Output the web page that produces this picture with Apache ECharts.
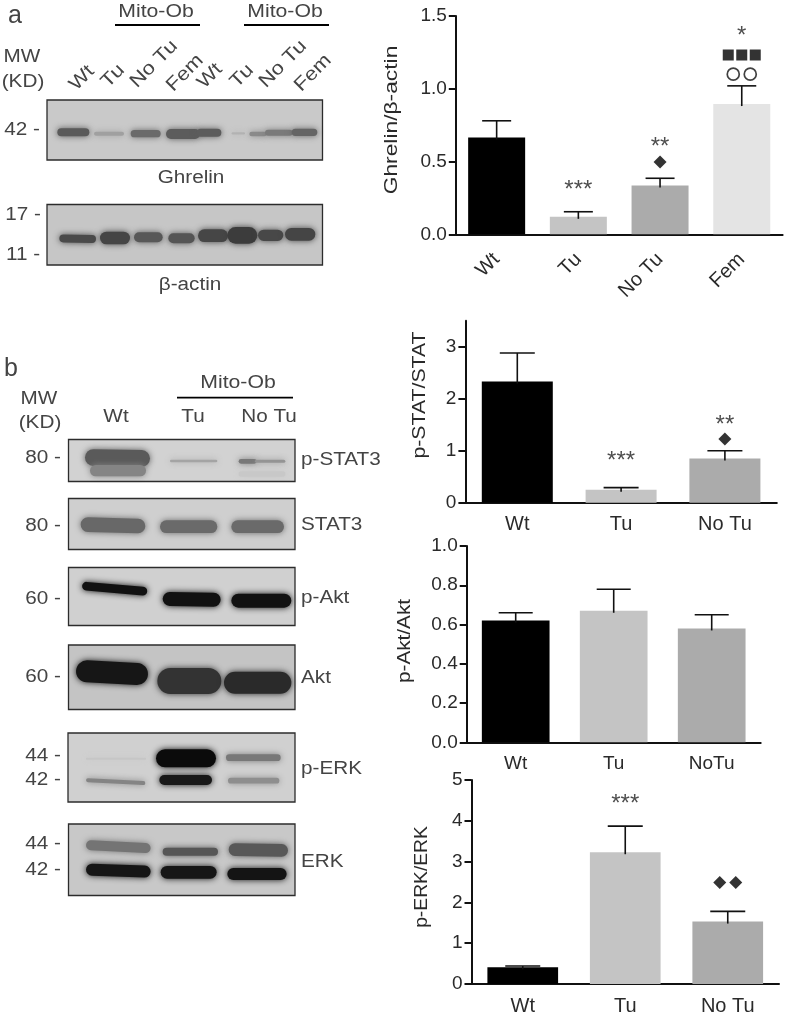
<!DOCTYPE html>
<html>
<head>
<meta charset="utf-8">
<style>
  html, body { margin: 0; background: #fff; }
  #main { width: 787px; height: 1016px; filter: blur(0.45px); }
</style>
<script src="https://cdn.jsdelivr.net/npm/echarts@6/dist/echarts.min.js"></script>
</head>
<body>
<div id="main"></div>
<script>
// chart data
var ghrelinCats = ["Wt", "Tu", "No Tu", "Fem"];
var ghrelinVals = [0.665, 0.12, 0.335, 0.895];
var ghrelinTops = [0.78, 0.155, 0.385, 1.02];
var ghrelinTicks = [0, 0.5, 1, 1.5];

var statCats = ["Wt", "Tu", "No Tu"];
var statVals = [2.33, 0.25, 0.85];
var statTops = [2.88, 0.29, 1.0];
var statTicks = [0, 1, 2, 3];

var aktCats = ["Wt", "Tu", "NoTu"];
var aktVals = [0.62, 0.67, 0.58];
var aktTops = [0.66, 0.78, 0.65];
var aktTicks = [0, 0.2, 0.4, 0.6, 0.8, 1];

var erkCats = ["Wt", "Tu", "No Tu"];
var erkVals = [0.41, 3.23, 1.53];
var erkTops = [0.44, 3.87, 1.78];
var erkTicks = [0, 1, 2, 3, 4, 5];

// significance marks: category, height on the value axis, what to draw
var ghrelinStars = [["Tu", 0.334, "***"], ["No Tu", 0.63, "**"], ["Fem", 1.397, "*"]];
var ghrelinGlyphs = [["No Tu", 0.497, "diamond", 0], ["Fem", 1.232, "rect", -13.5], ["Fem", 1.232, "rect", 0],
  ["Fem", 1.232, "rect", 13.5], ["Fem", 1.10, "circle", -8.5], ["Fem", 1.10, "circle", 8.5]];
var statStars = [["Tu", 0.885, "***"], ["No Tu", 1.59, "**"]];
var statGlyphs = [["No Tu", 1.225, "diamond", 0]];
var erkStars = [["Tu", 4.53, "***"]];
var erkGlyphs = [["No Tu", 2.49, "diamond", -8], ["No Tu", 2.49, "diamond", 8]];

var barColors = ["#000000", "#c4c4c4", "#ababab", "#e4e4e4"];
var FONT = '"Liberation Sans", Arial, sans-serif';
var AXIS = "#111";
var TEXT = "#2a2a2a";
var BLOT_TEXT = "#444";

var panels = [
  { cats: ghrelinCats, vals: ghrelinVals, tops: ghrelinTops, ticks: ghrelinTicks, max: 1.5, stars: ghrelinStars, glyphs: ghrelinGlyphs,
    left: 455.8, width: 326.8, top: 16, height: 218.3, barW: 57, cap: 29, fmt: 1, labelSize: 20, margin: 22, rotate: 45 },
  { cats: statCats, vals: statVals, tops: statTops, ticks: statTicks, max: 3.5, stars: statStars, glyphs: statGlyphs,
    left: 465.4, width: 311.4, top: 320.7, height: 182, barW: 71, cap: 35, fmt: 0, labelSize: 20, margin: 12, rotate: 0 },
  { cats: aktCats, vals: aktVals, tops: aktTops, ticks: aktTicks, max: 1, stars: [], glyphs: [],
    left: 466.7, width: 294, top: 546, height: 196.3, barW: 67.7, cap: 34, fmt: 1, labelSize: 19, margin: 12, rotate: 0 },
  { cats: erkCats, vals: erkVals, tops: erkTops, ticks: erkTicks, max: 5, stars: erkStars, glyphs: erkGlyphs,
    left: 471.5, width: 307.5, top: 780, height: 204.3, barW: 70.7, cap: 35, fmt: 0, labelSize: 20, margin: 12, rotate: 0 }
];

var grids = [], xAxes = [], yAxes = [], series = [];

panels.forEach(function (p, i) {
  grids.push({ left: p.left, top: p.top, width: p.width, height: p.height });
  xAxes.push({
    type: "category", gridIndex: i, data: p.cats,
    axisLine: { lineStyle: { color: AXIS, width: 2 } },
    axisTick: { alignWithLabel: true, length: 7, lineStyle: { color: AXIS, width: 2 } },
    axisLabel: { color: TEXT, fontFamily: FONT, fontSize: p.labelSize, rotate: p.rotate, margin: p.margin, interval: 0 }
  });
  yAxes.push({
    type: "value", gridIndex: i, min: 0, max: p.max,
    splitLine: { show: false },
    axisLine: { show: true, lineStyle: { color: AXIS, width: 2 } },
    axisTick: { show: true, length: 7, customValues: p.ticks, lineStyle: { color: AXIS, width: 2 } },
    axisLabel: {
      color: TEXT, fontFamily: FONT, fontSize: 19, margin: 9, customValues: p.ticks,
      formatter: function (v) { return v.toFixed(p.fmt); }
    }
  });
  series.push({
    type: "bar", xAxisIndex: i, yAxisIndex: i, barWidth: p.barW, z: 2,
    data: p.vals.map(function (v, k) { return { value: v, itemStyle: { color: barColors[k] } }; })
  });
  // error bars, upper arm only
  series.push({
    type: "custom", xAxisIndex: i, yAxisIndex: i, z: 3, silent: true,
    data: p.tops.map(function (t, k) { return [k, p.vals[k], t]; }),
    renderItem: function (params, api) {
      var base = api.coord([api.value(0), api.value(1)]);
      var top = api.coord([api.value(0), api.value(2)]);
      var st = { stroke: AXIS, lineWidth: 1.6 };
      return {
        type: "group",
        children: [
          { type: "line", shape: { x1: top[0], y1: base[1] + 2, x2: top[0], y2: top[1] }, style: st },
          { type: "line", shape: { x1: top[0] - p.cap / 2, y1: top[1], x2: top[0] + p.cap / 2, y2: top[1] }, style: st }
        ]
      };
    }
  });
  if (p.stars.length) {
    series.push({
      type: "scatter", xAxisIndex: i, yAxisIndex: i, symbolSize: 1, z: 4, silent: true,
      itemStyle: { color: "transparent" },
      data: p.stars.map(function (s) {
        return {
          value: [s[0], s[1]],
          label: {
            show: true, position: "inside", formatter: s[2], color: "#222",
            fontFamily: FONT, fontSize: 24, offset: [0, 5]
          }
        };
      })
    });
  }
  if (p.glyphs.length) {
    series.push({
      type: "scatter", xAxisIndex: i, yAxisIndex: i, z: 4, silent: true,
      data: p.glyphs.map(function (g) {
        var hollow = g[2] === "circle";
        return {
          value: [g[0], g[1]],
          symbol: g[2],
          symbolSize: hollow ? 12 : (g[2] === "rect" ? 11 : 13),
          symbolOffset: [g[3], 0],
          itemStyle: hollow ? { color: "#fff", borderColor: "#111", borderWidth: 1.7 } : { color: "#000" }
        };
      })
    });
  }
});

// ---- western blots, drawn as plain shapes ----
var graphics = [];

function txt(s, x, y, size, o) {
  o = o || {};
  graphics.push({
    type: "text", x: x, y: y, rotation: (o.rot || 0) * Math.PI / 180,
    scaleX: o.sx || 1.15, z: 20,
    style: {
      text: s, fill: o.fill || BLOT_TEXT, font: size + "px " + FONT,
      textAlign: o.align || "center", textVerticalAlign: "middle"
    }
  });
}
function rule(x1, x2, y) {
  graphics.push({
    type: "line", z: 20, shape: { x1: x1, y1: y, x2: x2, y2: y },
    style: { stroke: "#000", lineWidth: 1.8 }
  });
}
function blot(x1, y1, x2, y2, bg, ox, oy, bands) {
  graphics.push({
    type: "rect", z: 5, shape: { x: x1, y: y1, width: x2 - x1, height: y2 - y1 },
    style: { fill: bg }
  });
  // bands: zoomed x1, x2, y centre, height, colour, tilt in degrees (positive runs down to the right)
  bands.forEach(function (b) {
    var w = (b[1] - b[0]) / 3, h = b[3] / 3;
    var cx = ox + (b[0] + b[1]) / 6, cy = oy + b[2] / 3;
    graphics.push({
      type: "rect", z: 6, x: cx, y: cy, rotation: -(b[5] || 0) * Math.PI / 180,
      shape: { x: -w / 2, y: -h / 2, width: w, height: h, r: h / 2 },
      style: { fill: b[4], shadowBlur: 6, shadowColor: b[4] }
    });
  });
  graphics.push({
    type: "rect", z: 7, shape: { x: x1, y: y1, width: x2 - x1, height: y2 - y1 },
    style: { fill: "none", stroke: "#2c2c2c", lineWidth: 1.3 }
  });
}

blot(47, 100, 322.5, 160, "#c9c9c9", 0, 0, [
  [172, 268, 397, 24, "#5a5a5a"], [282, 372, 401, 12, "#a0a0a0"], [392, 482, 401, 22, "#6a6a6a"],
  [498, 600, 402, 30, "#5c5c5c"], [590, 664, 398, 24, "#5c5c5c"], [695, 735, 400, 7, "#b2b2b2"],
  [748, 800, 402, 14, "#8a8a8a"], [795, 878, 398, 18, "#7a7a7a"], [875, 952, 397, 22, "#656565"]
]);
blot(47, 204.5, 322.5, 265, "#c6c6c6", 0, 0, [
  [178, 288, 716, 24, "#4a4a4a", 1], [300, 390, 714, 38, "#454545"], [402, 488, 712, 30, "#585858"],
  [505, 584, 715, 30, "#555555"], [594, 684, 707, 38, "#464646"], [682, 772, 706, 50, "#3c3c3c"],
  [774, 850, 706, 34, "#484848"], [855, 946, 703, 38, "#454545"]
]);

blot(68.5, 439.5, 295, 481.5, "#d2d2d2", 0, 350, [
  [255, 450, 324, 50, "#5a5a5a", 1], [270, 438, 362, 34, "#858585"], [510, 652, 333, 8, "#a4a4a4"],
  [716, 770, 334, 14, "#787878"], [765, 856, 334, 9, "#949494"], [716, 856, 372, 16, "#c8c8c8"]
]);
blot(68.5, 498.5, 295, 549.5, "#cfcfcf", 0, 350, [
  [242, 436, 526, 44, "#686868", 1.5], [480, 652, 530, 38, "#6a6a6a"], [694, 852, 530, 38, "#6a6a6a"]
]);
blot(68.5, 567.5, 295, 625.5, "#d0d0d0", 0, 350, [
  [246, 442, 716, 26, "#111", 5], [488, 662, 748, 42, "#111", 1], [694, 874, 752, 42, "#111"]
]);
blot(68.5, 645, 295, 709.5, "#c4c4c4", 0, 350, [
  [228, 444, 968, 66, "#161616", 3], [472, 664, 993, 78, "#333333"], [672, 874, 998, 66, "#2a2a2a"]
]);
blot(68, 733, 295, 802, "#d0d0d0", 0, 680, [
  [258, 438, 236, 6, "#c6c6c6"], [468, 648, 235, 54, "#0b0b0b"], [678, 842, 233, 20, "#787878"],
  [258, 436, 305, 12, "#848484", 3], [478, 636, 300, 30, "#181818"], [684, 838, 302, 17, "#8e8e8e"]
]);
blot(68.5, 824, 295, 895.5, "#c8c8c8", 0, 680, [
  [258, 452, 500, 30, "#747474", 3], [488, 654, 515, 24, "#565656"], [686, 864, 510, 38, "#585858", 1],
  [258, 452, 572, 36, "#161616", 2], [482, 650, 577, 38, "#161616"], [682, 860, 582, 36, "#141414"]
]);

// panel a text
txt("a", 15, 16, 25, { sx: 1 });
txt("Mito-Ob", 156, 12, 18, { sx: 1.18 });
txt("Mito-Ob", 285, 12, 18, { sx: 1.18 });
rule(115, 200, 25);
rule(244, 329, 25);
txt("MW", 22, 57, 18);
txt("(KD)", 23, 82, 18);
[["Wt", 82, 78], ["Tu", 113, 76], ["No Tu", 154, 64], ["Fem", 185, 73],
 ["Wt", 210, 76], ["Tu", 242, 76], ["No Tu", 283, 64], ["Fem", 313, 73]].forEach(function (l) {
  txt(l[0], l[1], l[2], 19, { rot: 45 });
});
txt("42 -", 22, 130, 18);
txt("17 -", 23, 215, 18);
txt("11 -", 23, 255, 18);
txt("Ghrelin", 191, 178, 18);
txt("β-actin", 190, 285, 18);

// panel b text
txt("b", 11, 369, 25, { sx: 1 });
txt("Mito-Ob", 238, 383, 18, { sx: 1.18 });
rule(177, 293, 397.7);
txt("MW", 39, 399, 18);
txt("(KD)", 40, 423, 18);
txt("Wt", 116, 417, 18);
txt("Tu", 193, 417, 18);
txt("No Tu", 269, 417, 18);
[["80 -", 458], ["80 -", 526], ["60 -", 599], ["60 -", 677], ["44 -", 756], ["42 -", 780], ["44 -", 844], ["42 -", 870]].forEach(function (l) {
  txt(l[0], 43, l[1], 18);
});
[["p-STAT3", 460], ["STAT3", 525], ["p-Akt", 598], ["Akt", 678], ["p-ERK", 769], ["ERK", 862]].forEach(function (l) {
  txt(l[0], 301, l[1], 18, { align: "left" });
});

// y axis names, rotated by hand so they can be stretched like the original
txt("Ghrelin/β-actin", 392, 120, 19, { rot: 90, sx: 1.2, fill: TEXT });
txt("p-STAT/STAT", 420, 395, 18, { rot: 90, sx: 1.18, fill: TEXT });
txt("p-Akt/Akt", 405, 641, 18, { rot: 90, sx: 1.15, fill: TEXT });
txt("p-ERK/ERK", 421.7, 877, 18, { rot: 90, sx: 1.07, fill: TEXT });

var chart = echarts.init(document.getElementById("main"), null, { renderer: "canvas" });
chart.setOption({
  animation: false,
  backgroundColor: "#fff",
  grid: grids,
  xAxis: xAxes,
  yAxis: yAxes,
  series: series,
  graphic: graphics
});
</script>
</body>
</html>
